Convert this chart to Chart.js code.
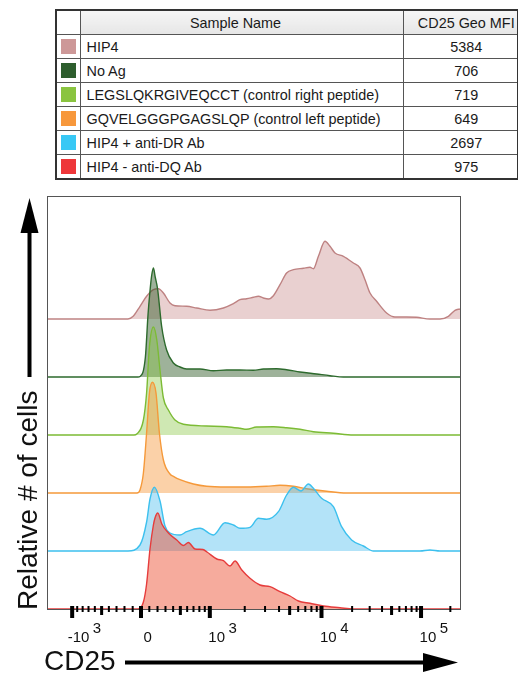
<!DOCTYPE html>
<html>
<head>
<meta charset="utf-8">
<script src="https://cdn.jsdelivr.net/npm/chart.js@4.4.1/dist/chart.umd.min.js"></script>
<style>
  html, body { margin:0; padding:0; background:#fff; }
  #wrap { position:relative; width:518px; height:674px; overflow:hidden; }
  #chart { position:absolute; left:0; top:0; }
  table.legend {
    position:absolute; left:55px; top:9px; width:462px;
    border-collapse:collapse; border:2px solid #333;
    font:14.4px "Liberation Sans", Arial, Helvetica, sans-serif; color:#1a1a1a;
    table-layout:fixed; background:#fff;
  }
  table.legend td, table.legend th {
    border:1px solid #555; height:23px; padding:0; font-weight:normal;
    vertical-align:middle; white-space:nowrap; overflow:hidden;
  }
  table.legend th { background:linear-gradient(#f6f6f6, #e6e6e6); }
  table.legend th.blank { background:#fff; }
  table.legend th.name { text-align:center; padding-right:12px; }
  table.legend td.name { text-align:left; padding-left:6px; }
  table.legend .val { text-align:center; padding-left:12px; }
  .sw { width:15px; height:15px; margin:0 auto; }
</style>
</head>
<body>
<div id="wrap">
  <canvas id="chart" width="518" height="674"></canvas>
  <table class="legend" id="legend">
    <colgroup><col style="width:24px"><col style="width:323px"><col style="width:115px"></colgroup>
    <thead><tr><th class="blank"></th><th class="name">Sample Name</th><th class="val">CD25 Geo MFI</th></tr></thead>
    <tbody id="legendBody"></tbody>
  </table>
</div>
<script>
// ---------------- data ----------------
const sampleNames = [
  'HIP4',
  'No Ag',
  'LEGSLQKRGIVEQCCT (control right peptide)',
  'GQVELGGGPGAGSLQP (control left peptide)',
  'HIP4 + anti-DR Ab',
  'HIP4 - anti-DQ Ab'
];
const geoMFI = [5384, 706, 719, 649, 2697, 975];

// histogram samples: display channel (0-206) and relative count
const hip4Ch = [0,40,42.6,46,49.3,52.7,55.2,57.7,61,63.5,69.3,74.3,81,87.7,92.7,96,99.3,102.7,105.2,107.7,110.2,112.7,116,119.3,122.7,127.7,131,132.7,135.2,138.5,141,143.5,147.7,152.7,156,158.5,161,164.3,169.3,173.5,179.3,184.3,191,196,200.2,203.5,206];
const hip4Ht = [0,0,2.7,12.7,22.7,29.3,30.3,26,16,13.3,12.7,11,8.7,11,15.3,19.3,20.3,21.7,22.7,21,20,23.3,34.3,46,49.3,50.7,51.7,50.3,62.7,77.7,72.7,66,62.7,56,51,39.3,26,17.7,6,2,2,1.7,0,0,2.7,8.7,10];

const noAgCh = [0,45,46,48.7,50,51,51.8,52.7,53.6,54.8,56.8,59.3,62.7,66,69.3,76,82.7,89.3,96,102.7,107.7,114.3,119.3,126,134.3,141,147.7,206];
const noAgHt = [0,0,0.5,20,62,86,101,109,100,88,51,27,14,10,8,8,6.3,7,7,6.7,8,8.3,7.3,5,3,1.3,0,0];

const rightPepCh = [0,43,44.4,47.7,49.3,50.7,52.7,54.4,56,57.7,60.2,63.5,67.7,79.3,89.3,96,99.3,104.3,112.7,119.3,126,132.7,142.7,152.7,206];
const rightPepHt = [0,0,1,15,42,88,108,95,65,37,25,15,10.7,9,8.3,6.7,5.7,8,8.3,7.3,5.7,3.3,1.7,0,0];

const leftPepCh = [0,44.5,46,47.7,49.3,50.7,52.2,54,55.7,57.7,61,62.7,66,72.7,79.3,89.3,99.3,109.3,116,122.7,129.3,139.3,149.3,206];
const leftPepHt = [0,0,3,20,60,100,110.7,100,60,33,19,16.7,13.3,9,6.7,6,6,6.7,7.7,6.7,4.3,1.7,0,0];

const antiDRCh = [0,40,46,49.3,51,53.2,56,58.5,61,66,69.3,76,82.7,88.5,92.7,96,101,105.2,109.3,115.2,119.3,122.7,126.5,130.2,132.7,136.8,142.7,146.8,151.8,157.7,162.7,186,191,196,206];
const antiDRHt = [0,0,6,29,52,63.7,50,25,18,16,19.3,22.7,16,28.3,26,22.7,23.7,32.7,31.7,39.3,56,63.7,60,67,62.7,52.7,44.3,24.3,11,5,0,0,1,0,0];

const antiDQCh = [0,45,47.7,49.3,51,52.7,53.5,54.9,56.9,60.2,64.4,67.7,70.2,73.5,77.5,79.5,84.4,87.7,91,93.5,96.9,101,106,111,116,121,125.2,131,137.7,146,152.7,206];
const antiDQHt = [0,0,7,25,60,84,91,96,85,76,69,63.5,66.5,60,59.5,57,50,48.3,43,48,39,30.7,24,22.3,17.3,13,8,5.7,3,1.3,0,0];

// CD25 axis tick values and labels
const majorTicks  = [-1000, 0, 1000, 10000, 100000];
const mediumTicks = [-500, 500, 5000, 50000];
const minorTicks  = [-900,-800,-700,-600,-400,-300,-200,-100,100,200,300,400,600,700,800,900,
                     2000,3000,4000,6000,7000,8000,9000,20000,30000,40000,60000,70000,80000,90000,200000];
const tickLabels  = [
  {value:-1000, base:'-10', exp:'3'},
  {value:0, base:'0', exp:''},
  {value:1000, base:'10', exp:'3'},
  {value:10000, base:'10', exp:'4'},
  {value:100000, base:'10', exp:'5'}
];

// ---------------- styles ----------------
const swatchColors = ['#cd9898', '#2e5e2e', '#8ac440', '#f7983c', '#38c8f5', '#ee373a'];
const lineColors   = ['#be8282', '#2d6a2d', '#7cbb35', '#f5993a', '#3cc0ee', '#e63c3c'];
const fillColors   = ['rgba(206,150,150,0.45)', 'rgba(40,85,30,0.45)', 'rgba(136,197,64,0.4)',
                      'rgba(247,154,62,0.45)', 'rgba(50,180,235,0.37)', 'rgba(236,80,50,0.48)'];

// logicle-style display transform (channel <-> CD25 value)
const logicle = { zero:46.5, k:21, a:126, p:3 };
function valueAt(ch) {
  const u = (ch - logicle.zero) / logicle.k, s = Math.sign(u), au = Math.abs(u), p = logicle.p;
  return s * logicle.a * (Math.exp(au) - p * p * Math.exp(-au / p) + p * p - 1);
}
function toChannel(v) {
  let lo = -100, hi = 400;
  for (let i = 0; i < 80; i++) { const m = (lo + hi) / 2; if (valueAt(m) < v) lo = m; else hi = m; }
  return (lo + hi) / 2;
}

// ---------------- legend table ----------------
const body = document.getElementById('legendBody');
sampleNames.forEach((n, i) => {
  const tr = document.createElement('tr');
  tr.innerHTML = '<td><div class="sw" style="background:' + swatchColors[i] + '"></div></td>' +
                 '<td class="name"></td><td class="val">' + geoMFI[i] + '</td>';
  tr.children[1].textContent = n;
  body.appendChild(tr);
});

// ---------------- chart ----------------
const seriesCh = [hip4Ch, noAgCh, rightPepCh, leftPepCh, antiDRCh, antiDQCh];
const seriesHt = [hip4Ht, noAgHt, rightPepHt, leftPepHt, antiDRHt, antiDQHt];
const laneStep = 58;
const datasets = [];
for (let s = 5; s >= 0; s--) {          // bottom lane first so it is drawn on top
  const lane = 5 - s;
  const base = lane * laneStep;
  datasets.push({
    label: sampleNames[s],
    data: seriesCh[s].map((c, i) => ({ x: c, y: base + seriesHt[s][i] })),
    borderColor: lineColors[s],
    backgroundColor: fillColors[s],
    borderWidth: 1.4,
    pointRadius: 0,
    fill: { value: base },
    cubicInterpolationMode: 'monotone'
  });
}

const decor = {
  id: 'decor',
  beforeDatasetsDraw(chart) {
    const { ctx, chartArea: a } = chart;
    ctx.save();
    ctx.strokeStyle = '#555';
    ctx.lineWidth = 1;
    ctx.strokeRect(a.left - 0.5, a.top - 0.5, a.right - a.left + 1, a.bottom - a.top + 1);
    ctx.restore();
  },
  afterDatasetsDraw(chart) {
    const { ctx, chartArea: a } = chart;
    const xs = chart.scales.x;
    ctx.save();
    ctx.fillStyle = '#000';
    const y0 = a.bottom - 3;
    const drawTicks = (vals, w, len) => vals.forEach(v => {
      const px = xs.getPixelForValue(toChannel(v));
      ctx.fillRect(px - w / 2, y0, w, len);
    });
    drawTicks(minorTicks, 2, 6);
    drawTicks(mediumTicks, 3, 9);
    drawTicks(majorTicks, 4, 12);

    // tick labels with superscript exponents
    ctx.font = '15px "Liberation Sans", Arial, Helvetica, sans-serif';
    ctx.textBaseline = 'alphabetic';
    ctx.textAlign = 'left';
    ctx.fillStyle = '#111';
    tickLabels.forEach(t => {
      const px = xs.getPixelForValue(toChannel(t.value));
      let x0;
      if (t.base === '0') x0 = px + 2.5;
      else if (t.base[0] === '-') x0 = px + 0.5 - ctx.measureText('-').width;
      else x0 = px - 1.5;
      ctx.fillText(t.base, x0, a.bottom + 33);
      if (t.exp) ctx.fillText(t.exp, x0 + ctx.measureText(t.base).width + 3.5, a.bottom + 24);
    });

    // axis titles
    ctx.fillStyle = '#111';
    ctx.font = '28px "Liberation Sans", Arial, Helvetica, sans-serif';
    ctx.fillText('CD25', 44, 670);
    ctx.save();
    ctx.translate(37, 610);
    ctx.rotate(-Math.PI / 2);
    ctx.fillText('Relative # of cells', 0, 0);
    ctx.restore();

    // arrows
    ctx.fillStyle = '#000';
    ctx.strokeStyle = '#000';
    ctx.lineWidth = 4;
    ctx.beginPath(); ctx.moveTo(29.5, 377); ctx.lineTo(29.5, 228); ctx.stroke();
    ctx.beginPath(); ctx.moveTo(29.5, 198); ctx.lineTo(20.5, 233); ctx.lineTo(38.5, 233); ctx.closePath(); ctx.fill();
    ctx.beginPath(); ctx.moveTo(125, 662.5); ctx.lineTo(428, 662.5); ctx.stroke();
    ctx.beginPath(); ctx.moveTo(458, 662.5); ctx.lineTo(423, 653); ctx.lineTo(423, 672); ctx.closePath(); ctx.fill();
    ctx.restore();
  }
};

new Chart(document.getElementById('chart'), {
  type: 'line',
  data: { datasets },
  options: {
    responsive: false,
    animation: false,
    devicePixelRatio: 1,
    layout: { padding: { left: 48, right: 58, top: 197, bottom: 65 } },
    plugins: { legend: { display: false }, tooltip: { enabled: false } },
    scales: {
      x: { type: 'linear', min: 0, max: 206, display: false },
      y: { type: 'linear', min: 0, max: 412, display: false }
    },
    elements: { line: { borderJoinStyle: 'round' } }
  },
  plugins: [decor]
});
</script>
</body>
</html>
